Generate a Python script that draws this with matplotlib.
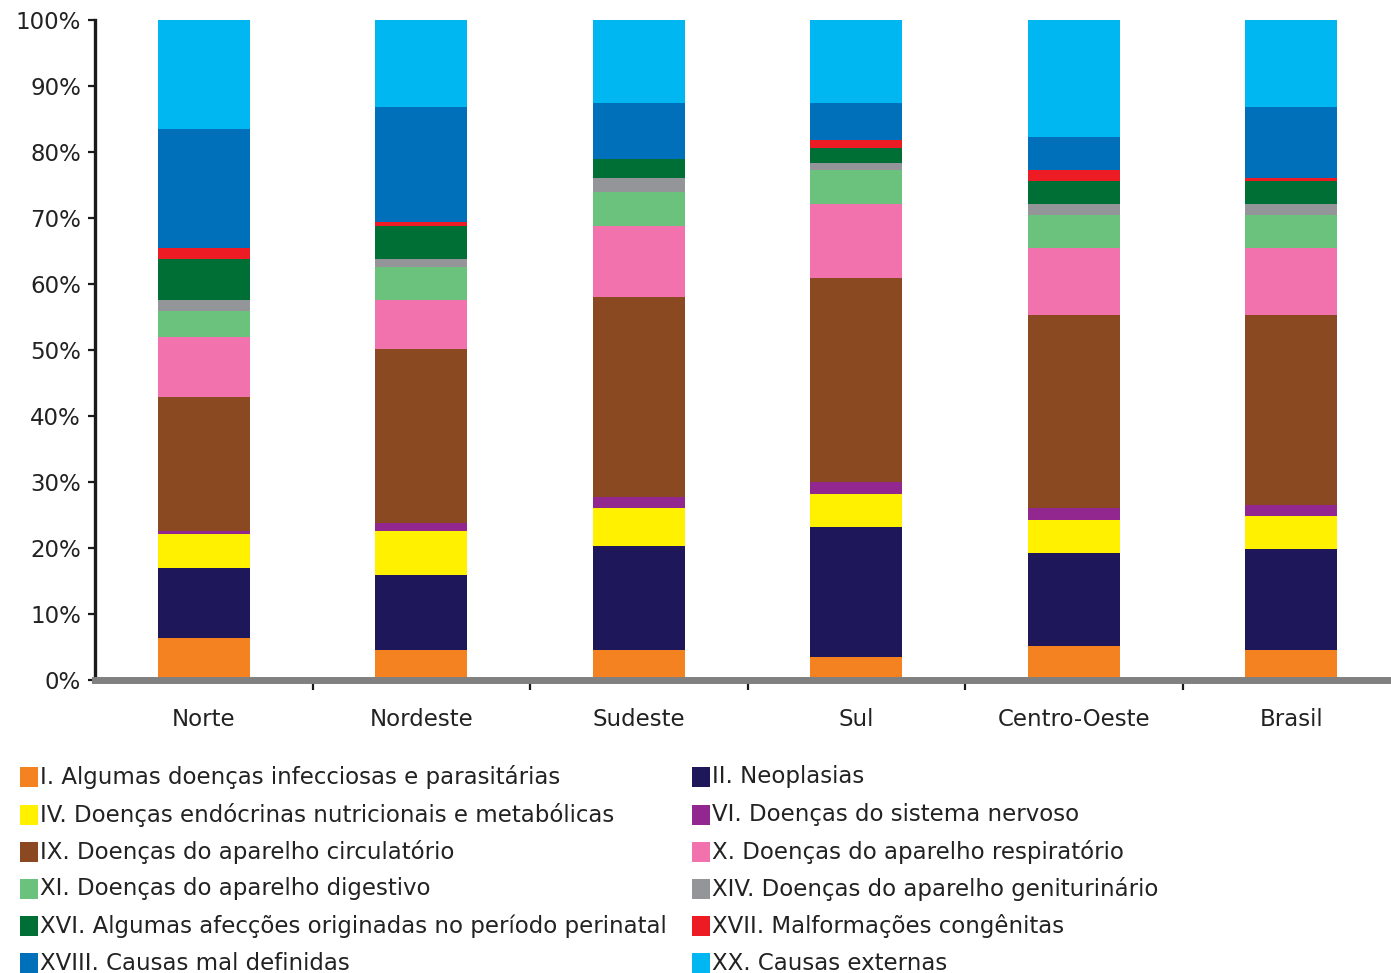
import matplotlib
matplotlib.use("Agg")
import matplotlib.pyplot as plt
from matplotlib.patches import Rectangle
import numpy as np

regioes = ["Norte", "Nordeste", "Sudeste", "Sul", "Centro-Oeste", "Brasil"]

# proporção de óbitos (%) por capítulo da CID-10, de baixo para cima na barra
cap_I = [6.4, 4.5, 4.5, 3.5, 5.2, 4.5]
cap_II = [10.6, 11.4, 15.8, 19.7, 14.0, 15.3]
cap_IV = [5.1, 6.7, 5.8, 5.0, 5.0, 5.0]
cap_VI = [0.5, 1.2, 1.6, 1.8, 1.9, 1.7]
cap_IX = [20.3, 26.4, 30.3, 30.9, 29.2, 28.8]
cap_X = [9.1, 7.4, 10.8, 11.2, 10.2, 10.2]
cap_XI = [3.9, 5.0, 5.1, 5.2, 5.0, 5.0]
cap_XIV = [1.7, 1.2, 2.2, 1.0, 1.6, 1.6]
cap_XVI = [6.2, 5.0, 2.8, 2.3, 3.5, 3.5]
cap_XVII = [1.7, 0.6, 0.1, 1.2, 1.7, 0.5]
cap_XVIII = [18.0, 17.4, 8.4, 5.6, 5.0, 10.7]
cap_XX = [16.5, 13.2, 12.6, 12.6, 17.7, 13.2]

series = [
    ("I. Algumas doenças infecciosas e parasitárias", cap_I, "#F58220"),
    ("II. Neoplasias", cap_II, "#1E1759"),
    ("IV. Doenças endócrinas nutricionais e metabólicas", cap_IV, "#FFF100"),
    ("VI. Doenças do sistema nervoso", cap_VI, "#92278F"),
    ("IX. Doenças do aparelho circulatório", cap_IX, "#8B4922"),
    ("X. Doenças do aparelho respiratório", cap_X, "#F172AC"),
    ("XI. Doenças do aparelho digestivo", cap_XI, "#6BC27C"),
    ("XIV. Doenças do aparelho geniturinário", cap_XIV, "#939598"),
    ("XVI. Algumas afecções originadas no período perinatal", cap_XVI, "#006F36"),
    ("XVII. Malformações congênitas", cap_XVII, "#ED1C24"),
    ("XVIII. Causas mal definidas", cap_XVIII, "#0070BA"),
    ("XX. Causas externas", cap_XX, "#00B7F1"),
]

plt.rcParams['font.family'] = ['DejaVu Sans']
txt_color = "#222222"
fs = 16.5

W, H = 1391, 973
fig = plt.figure(figsize=(W / 100, H / 100), dpi=100)
ax = fig.add_axes([95 / W, 293 / H, (1400 - 95) / W, 660 / H])

x = np.arange(len(regioes))
bottom = np.zeros(len(regioes))
for label, vals, cor in series:
    vals = np.array(vals)
    ax.bar(x, vals, width=0.425, bottom=bottom, color=cor, label=label, linewidth=0)
    bottom += vals

ax.set_xlim(-0.5, len(regioes) - 0.5)
ax.set_ylim(0, 100)

# eixos
for s in ["top", "right"]:
    ax.spines[s].set_visible(False)
ax.spines["left"].set_color("#1a1a1a")
ax.spines["left"].set_linewidth(2.4)
ax.spines["bottom"].set_color("#808080")
ax.spines["bottom"].set_linewidth(5)

ax.set_yticks(np.arange(0, 101, 10))
ax.set_yticklabels([f"{v}%" for v in range(0, 101, 10)], fontsize=fs, color=txt_color)
ax.tick_params(axis="y", direction="out", length=5, width=1.6, color="#1a1a1a", pad=5)

ax.set_xticks(x)
ax.set_xticklabels(regioes, fontsize=fs, color=txt_color)
ax.tick_params(axis="x", which="major", length=0, pad=20)
ax.set_xticks(np.arange(0.5, len(regioes) - 0.5, 1), minor=True)
ax.tick_params(axis="x", which="minor", direction="out", length=7, width=1.6, color="#1a1a1a")

# legenda em duas colunas, preenchida por linhas
col_x = [20, 692]
row_y = [777, 815, 852, 889, 926, 963]
for i, (label, vals, cor) in enumerate(series):
    r, c = divmod(i, 2)
    px, py = col_x[c], row_y[r]
    fig.add_artist(Rectangle((px / W, 1 - (py + 10) / H), 18 / W, 20 / H,
                             transform=fig.transFigure, facecolor=cor, edgecolor="none"))
    fig.text((px + 20) / W, 1 - py / H, label, fontsize=fs, color=txt_color,
             ha="left", va="center")

fig.savefig("out.png", dpi=100)
